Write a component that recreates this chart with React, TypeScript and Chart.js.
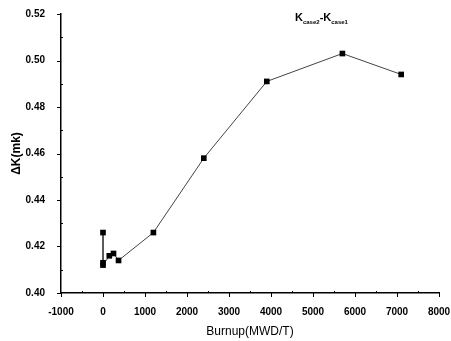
import React, { useEffect, useRef } from "react";
import { Chart, registerables } from "chart.js";

Chart.register(...registerables);

const burnup = [0, 0, 0, 150, 250, 370, 1200, 2400, 3900, 5700, 7100];
const deltaK = [0.426, 0.413, 0.412, 0.416, 0.417, 0.414, 0.426, 0.458, 0.491, 0.503, 0.494];
const xTicks = [-1000, 0, 1000, 2000, 3000, 4000, 5000, 6000, 7000, 8000];
const yTicks = [0.4, 0.42, 0.44, 0.46, 0.48, 0.5, 0.52];
const xTitle = "Burnup(MWD/T)";
const yTitle = "ΔK(mk)";
const annotation = { base: "K", sub1: "case2", mid: "-K", sub2: "case1" };

const FONT = "'Liberation Sans', Arial, sans-serif";

const tickPlugin = {
  id: "customTicks",
  afterDraw(chart: any) {
    const ctx = chart.ctx;
    const xs = chart.scales.x;
    const ys = chart.scales.y;
    const area = chart.chartArea;
    ctx.save();
    ctx.strokeStyle = "#000";
    ctx.lineWidth = 1;
    for (let v = xs.min; v <= xs.max + 1e-6; v += 500) {
      const px = Math.round(xs.getPixelForValue(v)) + 0.5;
      const major = Math.abs(v % 1000) < 1e-6;
      ctx.beginPath();
      if (major) {
        ctx.moveTo(px, area.bottom);
        ctx.lineTo(px, area.bottom + 4);
      } else {
        ctx.moveTo(px, area.bottom);
        ctx.lineTo(px, area.bottom - 2);
      }
      ctx.stroke();
    }
    for (let i = 0; i <= 12; i++) {
      const v = ys.min + i * 0.01;
      const py = Math.round(ys.getPixelForValue(v)) + 0.5;
      const major = i % 2 === 0;
      ctx.beginPath();
      if (major) {
        ctx.moveTo(area.left, py);
        ctx.lineTo(area.left - 4, py);
      } else {
        ctx.moveTo(area.left, py);
        ctx.lineTo(area.left + 2, py);
      }
      ctx.stroke();
    }
    const ax = area.right - 144;
    const ay = area.top + 7;
    ctx.fillStyle = "#000";
    ctx.textBaseline = "alphabetic";
    ctx.textAlign = "left";
    let x = ax;
    ctx.font = `bold 11px ${FONT}`;
    ctx.fillText(annotation.base, x, ay);
    x += ctx.measureText(annotation.base).width;
    ctx.font = `bold 6px ${FONT}`;
    ctx.fillText(annotation.sub1, x, ay + 3);
    x += ctx.measureText(annotation.sub1).width;
    ctx.font = `bold 11px ${FONT}`;
    ctx.fillText(annotation.mid, x, ay);
    x += ctx.measureText(annotation.mid).width;
    ctx.font = `bold 6px ${FONT}`;
    ctx.fillText(annotation.sub2, x, ay + 3);
    ctx.restore();
  },
};

export default function App() {
  const ref = useRef<HTMLCanvasElement>(null);
  useEffect(() => {
    if (!ref.current) return;
    const chart = new Chart(ref.current, {
      type: "scatter",
      data: {
        datasets: [
          {
            data: burnup.map((b, i) => ({ x: b, y: deltaK[i] })),
            showLine: true,
            borderColor: "#444",
            borderWidth: 1,
            pointStyle: "rect",
            pointRadius: 4,
            pointBackgroundColor: "#000",
            pointBorderColor: "#000",
            pointBorderWidth: 0,
          },
        ],
      },
      options: {
        responsive: false,
        animation: false,
        layout: { padding: { left: 0, right: 0, top: 12, bottom: 0 } },
        plugins: { legend: { display: false }, tooltip: { enabled: false } },
        scales: {
          x: {
            type: "linear",
            min: xTicks[0],
            max: xTicks[xTicks.length - 1],
            afterBuildTicks: (s: any) => {
              s.ticks = xTicks.map((v) => ({ value: v }));
            },
            afterFit: (s: any) => {
              s.height = 48;
              s.paddingRight = 12;
            },
            grid: { display: false },
            border: { display: true, color: "#000", width: 1.5 },
            ticks: {
              color: "#000",
              padding: 5,
              maxRotation: 0,
              font: { family: FONT, size: 10, weight: "bold" },
              callback: (v: any) => String(v),
            },
            title: {
              display: true,
              text: xTitle,
              color: "#000",
              padding: { top: 0, bottom: 2 },
              font: { family: FONT, size: 12 },
            },
          },
          y: {
            type: "linear",
            min: yTicks[0],
            max: yTicks[yTicks.length - 1],
            afterBuildTicks: (s: any) => {
              s.ticks = yTicks.map((v) => ({ value: v }));
            },
            afterFit: (s: any) => {
              s.width = 61;
            },
            grid: { display: false },
            border: { display: true, color: "#000", width: 1.5 },
            ticks: {
              color: "#000",
              padding: 8,
              font: { family: FONT, size: 10, weight: "bold" },
              callback: (v: any) => Number(v).toFixed(2),
            },
            title: {
              display: true,
              text: yTitle,
              color: "#000",
              padding: { top: 9, bottom: 0 },
              font: { family: FONT, size: 12, weight: "bold" },
            },
          },
        },
      },
      plugins: [tickPlugin],
    });
    return () => chart.destroy();
  }, []);
  return (
    <div style={{ position: "fixed", left: 0, top: 0, width: 451, height: 341, background: "#fff" }}>
      <canvas ref={ref} width={451} height={341} style={{ display: "block" }} />
    </div>
  );
}
